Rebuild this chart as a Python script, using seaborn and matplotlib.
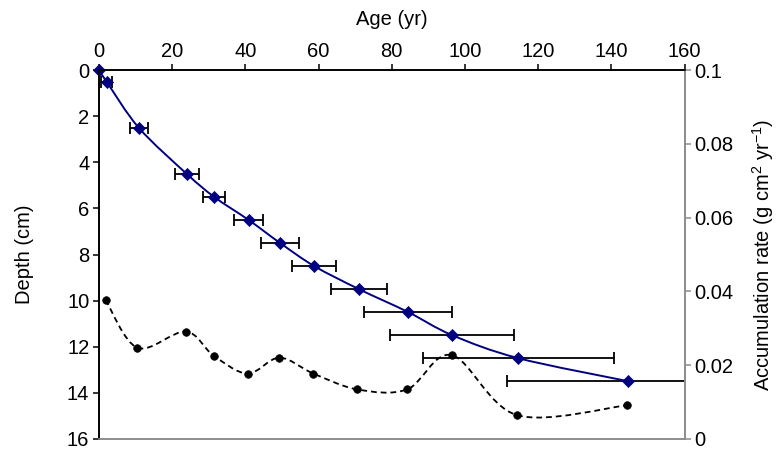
import numpy as np
import matplotlib
matplotlib.use("Agg")
import matplotlib.pyplot as plt
import seaborn as sns
from matplotlib.path import Path
from matplotlib.patches import PathPatch

# age-depth model
ages = [0, 2.1, 10.9, 24.0, 31.5, 40.9, 49.5, 58.8, 71.0, 84.5, 96.5, 114.6, 144.6]
depths = [0, 0.5, 2.5, 4.5, 5.5, 6.5, 7.5, 8.5, 9.5, 10.5, 11.5, 12.5, 13.5]
age_err = [0, 1.5, 2.4, 3.2, 3.0, 3.9, 5.2, 6.0, 7.6, 12.0, 17.0, 26.0, 33.0]

# accumulation rate (right axis)
rate_ages = [1.8, 10.5, 23.7, 31.3, 40.6, 49.3, 58.6, 70.6, 84.2, 96.4, 114.3, 144.3]
rates = [0.0377, 0.0247, 0.0291, 0.0226, 0.0177, 0.0220, 0.0177, 0.0134, 0.0134, 0.0227, 0.0064, 0.0091]

depth_ticks = [0, 2, 4, 6, 8, 10, 12, 14, 16]
age_ticks = [0, 20, 40, 60, 80, 100, 120, 140, 160]
rate_ticks = [0, 0.02, 0.04, 0.06, 0.08, 0.1]

NAVY = "#000080"
GREY = "#8c8c8c"


def smooth_path(xs, ys):
    # Excel-like smoothed line: cubic bezier through every point
    p = np.column_stack([xs, ys]).astype(float)
    n = len(p)
    verts = [p[0]]
    codes = [Path.MOVETO]
    for i in range(n - 1):
        p0 = p[max(i - 1, 0)]
        p1 = p[i]
        p2 = p[i + 1]
        p3 = p[min(i + 2, n - 1)]
        c1 = p1 + (p2 - p0) / 6.0
        c2 = p2 - (p3 - p1) / 6.0
        verts += [c1, c2, p2]
        codes += [Path.CURVE4] * 3
    return Path(verts, codes)


sns.set_style("white")
plt.rcParams["font.family"] = ["Liberation Sans", "DejaVu Sans"]
plt.rcParams["font.size"] = 14.5
plt.rcParams["text.color"] = "black"
plt.rcParams["axes.labelcolor"] = "black"
plt.rcParams["xtick.color"] = "black"
plt.rcParams["ytick.color"] = "black"
plt.rcParams["mathtext.default"] = "regular"

fig = plt.figure(figsize=(7.77, 4.55), dpi=100)
ax = fig.add_axes([0.1274, 0.0356, 0.7536, 0.8099])
ax2 = ax.twinx()

# depth axis
ax.set_xlim(0, 160)
ax.set_ylim(16, 0)
ax.errorbar(ages[1:], depths[1:], xerr=age_err[1:], fmt="none", ecolor="black",
            elinewidth=1.3, capsize=4, capthick=1.3, zorder=2)
ax.add_patch(PathPatch(smooth_path(ages, depths), fill=False, edgecolor=NAVY,
                       lw=1.4, zorder=3))
sns.scatterplot(x=ages, y=depths, ax=ax, marker="D", s=38, color=NAVY,
                edgecolor=NAVY, linewidth=0.5, zorder=4, clip_on=False)

# accumulation rate axis
ax2.set_ylim(0, 0.1)
ax2.add_patch(PathPatch(smooth_path(rate_ages, rates), fill=False, edgecolor="black",
                        lw=1.3, linestyle=(0, (3.2, 2.2)), zorder=3))
sns.scatterplot(x=rate_ages, y=rates, ax=ax2, marker="o", s=30, color="black",
                edgecolor="black", linewidth=0.5, zorder=4)

# ticks and spines
ax.xaxis.tick_top()
ax.xaxis.set_label_position("top")
ax.set_xticks(age_ticks)
ax.set_xticklabels([str(a) for a in age_ticks])
ax.set_yticks(depth_ticks)
ax.set_yticklabels([str(d) for d in depth_ticks])
ax2.set_yticks(rate_ticks)
ax2.set_yticklabels(["0", "0.02", "0.04", "0.06", "0.08", "0.1"])
ax2.tick_params(axis="x", bottom=False, labelbottom=False)

ax.tick_params(axis="x", top=True, direction="out", length=4, width=1.1,
               colors="black", pad=3)
ax.tick_params(axis="y", left=True, direction="out", length=4, width=1.1,
               colors="black", pad=3)
ax2.tick_params(axis="y", right=True, direction="out", length=4, width=1.1,
                color=GREY, labelcolor="black", pad=3)

for a in (ax, ax2):
    a.spines["top"].set_color("black")
    a.spines["left"].set_color("black")
    a.spines["bottom"].set_color(GREY)
    a.spines["right"].set_color(GREY)
    for s in a.spines.values():
        s.set_linewidth(1.2)
        s.set_visible(True)
    a.grid(False)

ax.set_xlabel("Age (yr)", labelpad=12)
ax.set_ylabel("Depth (cm)", labelpad=24)
ax2.set_ylabel("Accumulation rate (g cm$^{2}$ yr$^{-1}$)", labelpad=12)

fig.savefig("out.png", dpi=100)
plt.close(fig)
